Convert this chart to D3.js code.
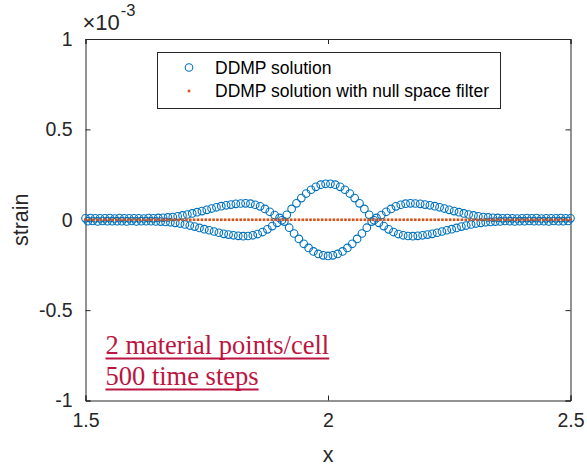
<!DOCTYPE html>
<html>
<head>
<meta charset="utf-8">
<script src="https://cdn.jsdelivr.net/npm/d3@7"></script>
<style>
    body { margin: 0; background: #fff; }
    #strain-chart { width: 587px; height: 466px; }
    .axis text { font-family: "Liberation Sans", Arial, sans-serif; fill: #262626; }
</style>
</head>
<body>
<div id="strain-chart"></div>
<script>

// STRAIN PROFILE, DDMP WITH / WITHOUT NULL SPACE FILTER
// values, strain given in units of 1e-3

let xPoints = [
    1.500, 1.505, 1.510, 1.515, 1.520, 1.525, 1.530, 1.535, 1.540, 1.545,
    1.550, 1.555, 1.560, 1.565, 1.570, 1.575, 1.580, 1.585, 1.590, 1.595,
    1.600, 1.605, 1.610, 1.615, 1.620, 1.625, 1.630, 1.635, 1.640, 1.645,
    1.650, 1.655, 1.660, 1.665, 1.670, 1.675, 1.680, 1.685, 1.690, 1.695,
    1.700, 1.705, 1.710, 1.715, 1.720, 1.725, 1.730, 1.735, 1.740, 1.745,
    1.750, 1.755, 1.760, 1.765, 1.770, 1.775, 1.780, 1.785, 1.790, 1.795,
    1.800, 1.805, 1.810, 1.815, 1.820, 1.825, 1.830, 1.835, 1.840, 1.845,
    1.850, 1.855, 1.860, 1.865, 1.870, 1.875, 1.880, 1.885, 1.890, 1.895,
    1.900, 1.905, 1.910, 1.915, 1.920, 1.925, 1.930, 1.935, 1.940, 1.945,
    1.950, 1.955, 1.960, 1.965, 1.970, 1.975, 1.980, 1.985, 1.990, 1.995,
    2.000, 2.005, 2.010, 2.015, 2.020, 2.025, 2.030, 2.035, 2.040, 2.045,
    2.050, 2.055, 2.060, 2.065, 2.070, 2.075, 2.080, 2.085, 2.090, 2.095,
    2.100, 2.105, 2.110, 2.115, 2.120, 2.125, 2.130, 2.135, 2.140, 2.145,
    2.150, 2.155, 2.160, 2.165, 2.170, 2.175, 2.180, 2.185, 2.190, 2.195,
    2.200, 2.205, 2.210, 2.215, 2.220, 2.225, 2.230, 2.235, 2.240, 2.245,
    2.250, 2.255, 2.260, 2.265, 2.270, 2.275, 2.280, 2.285, 2.290, 2.295,
    2.300, 2.305, 2.310, 2.315, 2.320, 2.325, 2.330, 2.335, 2.340, 2.345,
    2.350, 2.355, 2.360, 2.365, 2.370, 2.375, 2.380, 2.385, 2.390, 2.395,
    2.400, 2.405, 2.410, 2.415, 2.420, 2.425, 2.430, 2.435, 2.440, 2.445,
    2.450, 2.455, 2.460, 2.465, 2.470, 2.475, 2.480, 2.485, 2.490, 2.495,
    2.500
];

let strainDDMP = [
    0.008, -0.008, 0.009, -0.007, 0.008, -0.009, 0.008, -0.007, 0.008, -0.008,
    0.009, -0.008, 0.007, -0.008, 0.009, -0.008, 0.008, -0.009, 0.008, -0.007,
    0.008, -0.009, 0.008, -0.008, 0.007, -0.008, 0.009, -0.008, 0.008, -0.009,
    0.010, -0.010, 0.011, -0.012, 0.013, -0.014, 0.015, -0.017, 0.019, -0.021,
    0.024, -0.026, 0.029, -0.032, 0.035, -0.038, 0.042, -0.045, 0.048, -0.052,
    0.055, -0.058, 0.062, -0.065, 0.069, -0.072, 0.075, -0.078, 0.080, -0.082,
    0.084, -0.086, 0.088, -0.089, 0.090, -0.091, 0.091, -0.090, 0.089, -0.086,
    0.083, -0.079, 0.074, -0.068, 0.060, -0.053, 0.044, -0.035, 0.026, -0.017,
    0.010, -0.003, -0.010, 0.027, -0.044, 0.060, -0.076, 0.091, -0.106, 0.120,
    -0.133, 0.145, -0.156, 0.166, -0.175, 0.182, -0.189, 0.194, -0.197, 0.199,
    -0.200, 0.199, -0.197, 0.194, -0.189, 0.182, -0.175, 0.166, -0.156, 0.145,
    -0.133, 0.120, -0.106, 0.091, -0.076, 0.060, -0.044, 0.027, -0.010, -0.003,
    0.010, -0.017, 0.026, -0.035, 0.044, -0.053, 0.060, -0.068, 0.074, -0.079,
    0.083, -0.086, 0.089, -0.090, 0.091, -0.091, 0.090, -0.089, 0.088, -0.086,
    0.084, -0.082, 0.080, -0.078, 0.075, -0.072, 0.069, -0.065, 0.062, -0.058,
    0.055, -0.052, 0.048, -0.045, 0.042, -0.038, 0.035, -0.032, 0.029, -0.026,
    0.024, -0.021, 0.019, -0.017, 0.015, -0.014, 0.013, -0.012, 0.011, -0.010,
    0.010, -0.009, 0.008, -0.007, 0.009, -0.008, 0.008, -0.009, 0.007, -0.008,
    0.008, -0.008, 0.009, -0.007, 0.008, -0.008, 0.009, -0.008, 0.007, -0.008,
    0.008, -0.009, 0.008, -0.007, 0.008, -0.008, 0.009, -0.008, 0.008, -0.007,
    0.008
];

// the filtered solution is plotted on a coarser set of points
let xFiltered = [
    1.500, 1.508, 1.516, 1.524, 1.532, 1.540, 1.548, 1.556, 1.564, 1.572,
    1.580, 1.588, 1.596, 1.604, 1.612, 1.620, 1.628, 1.636, 1.644, 1.652,
    1.660, 1.668, 1.676, 1.684, 1.692, 1.700, 1.708, 1.716, 1.724, 1.732,
    1.740, 1.748, 1.756, 1.764, 1.772, 1.780, 1.788, 1.796, 1.804, 1.812,
    1.820, 1.828, 1.836, 1.844, 1.852, 1.860, 1.868, 1.876, 1.884, 1.892,
    1.900, 1.908, 1.916, 1.924, 1.932, 1.940, 1.948, 1.956, 1.964, 1.972,
    1.980, 1.988, 1.996, 2.004, 2.012, 2.020, 2.028, 2.036, 2.044, 2.052,
    2.060, 2.068, 2.076, 2.084, 2.092, 2.100, 2.108, 2.116, 2.124, 2.132,
    2.140, 2.148, 2.156, 2.164, 2.172, 2.180, 2.188, 2.196, 2.204, 2.212,
    2.220, 2.228, 2.236, 2.244, 2.252, 2.260, 2.268, 2.276, 2.284, 2.292,
    2.300, 2.308, 2.316, 2.324, 2.332, 2.340, 2.348, 2.356, 2.364, 2.372,
    2.380, 2.388, 2.396, 2.404, 2.412, 2.420, 2.428, 2.436, 2.444, 2.452,
    2.460, 2.468, 2.476, 2.484, 2.492, 2.500
];

let strainFiltered = [
    0, 0, 0, 0, 0, 0, 0, 0, 0, 0,
    0, 0, 0, 0, 0, 0, 0, 0, 0, 0,
    0, 0, 0, 0, 0, 0, 0, 0, 0, 0,
    0, 0, 0, 0, 0, 0, 0, 0, 0, 0,
    0, 0, 0, 0, 0, 0, 0, 0, 0, 0,
    0, 0, 0, 0, 0, 0, 0, 0, 0, 0,
    0, 0, 0, 0, 0, 0, 0, 0, 0, 0,
    0, 0, 0, 0, 0, 0, 0, 0, 0, 0,
    0, 0, 0, 0, 0, 0, 0, 0, 0, 0,
    0, 0, 0, 0, 0, 0, 0, 0, 0, 0,
    0, 0, 0, 0, 0, 0, 0, 0, 0, 0,
    0, 0, 0, 0, 0, 0, 0, 0, 0, 0,
    0, 0, 0, 0, 0, 0
];

let xTicks = [1.5, 2, 2.5];
let yTicks = [-1, -0.5, 0, 0.5, 1];
let legendLabels = ["DDMP solution", "DDMP solution with null space filter"];
let noteLines = ["2 material points/cell", "500 time steps"];


class StrainVis {

    constructor(_parentElement) {
        this.parentElement = _parentElement;
        this.initVis();
    }

    initVis() {
        let vis = this;

        vis.margin = {top: 39, right: 16.5, bottom: 65.5, left: 85.5};
        vis.width = 587 - vis.margin.left - vis.margin.right;
        vis.height = 466 - vis.margin.top - vis.margin.bottom;

        vis.colors = {
            'axis': '#262626',
            'blue': '#0072BD',
            'orange': '#D95319',
            'note': '#BB1541'
        };

        vis.svg = d3.select("#" + vis.parentElement).append("svg")
            .attr("width", 587)
            .attr("height", 466)
            .append("g")
            .attr("transform", "translate(" + vis.margin.left + "," + vis.margin.top + ")");

        vis.x = d3.scaleLinear().domain([1.5, 2.5]).range([0, vis.width]);
        vis.y = d3.scaleLinear().domain([-1, 1]).range([vis.height, 0]);

        vis.ddmpData = xPoints.map((d, i) => ({x: d, y: strainDDMP[i]}));
        vis.filteredData = xFiltered.map((d, i) => ({x: d, y: strainFiltered[i]}));

        vis.updateVis();
    }

    updateVis() {
        let vis = this;
        let tickFont = "19.5px";
        let fmt = d => d < 0 ? "-" + Math.abs(d) : "" + d;

        // axes, ticks pointing inward, box on
        let xAxis = d3.axisBottom(vis.x).tickValues(xTicks).tickSize(-5).tickPadding(13).tickFormat(fmt);
        let xTop = d3.axisTop(vis.x).tickValues(xTicks).tickSize(-5).tickFormat("");
        let yAxis = d3.axisLeft(vis.y).tickValues(yTicks).tickSize(-5).tickPadding(13).tickFormat(fmt);
        let yRight = d3.axisRight(vis.y).tickValues(yTicks).tickSize(-5).tickFormat("");

        vis.svg.append("g").attr("class", "axis")
            .attr("transform", "translate(0," + vis.height + ")").call(xAxis);
        vis.svg.append("g").attr("class", "axis").call(xTop);
        vis.svg.append("g").attr("class", "axis").call(yAxis);
        vis.svg.append("g").attr("class", "axis")
            .attr("transform", "translate(" + vis.width + ",0)").call(yRight);

        vis.svg.selectAll(".axis path, .axis line")
            .attr("stroke", vis.colors.axis)
            .attr("stroke-width", 1);
        vis.svg.selectAll(".axis text")
            .style("font-size", tickFont);

        // exponent label
        let expo = vis.svg.append("text")
            .attr("x", -3)
            .attr("y", -9)
            .attr("fill", vis.colors.axis)
            .style("font-family", "Liberation Sans, Arial, sans-serif")
            .style("font-size", "22px");
        expo.append("tspan").text("\u00d710");
        expo.append("tspan").attr("dx", 1).attr("dy", -14).style("font-size", "16.5px").text("-3");

        // axis labels
        vis.svg.append("text")
            .attr("x", vis.width / 2)
            .attr("y", vis.height + 61)
            .attr("text-anchor", "middle")
            .attr("fill", vis.colors.axis)
            .style("font-family", "Liberation Sans, Arial, sans-serif")
            .style("font-size", "21.5px")
            .text("x");

        vis.svg.append("text")
            .attr("transform", "translate(-58," + (vis.height / 2) + ") rotate(-90)")
            .attr("text-anchor", "middle")
            .attr("fill", vis.colors.axis)
            .style("font-family", "Liberation Sans, Arial, sans-serif")
            .style("font-size", "21.5px")
            .text("strain");

        // clip to the axes box
        vis.svg.append("clipPath").attr("id", "plot-clip")
            .append("rect").attr("x", -6).attr("y", -6)
            .attr("width", vis.width + 12).attr("height", vis.height + 12);

        let plot = vis.svg.append("g").attr("clip-path", "url(#plot-clip)");

        // DDMP solution, open circles
        plot.selectAll(".ddmp")
            .data(vis.ddmpData)
            .enter().append("circle")
            .attr("class", "ddmp")
            .attr("cx", d => vis.x(d.x))
            .attr("cy", d => vis.y(d.y))
            .attr("r", 3.8)
            .attr("fill", "none")
            .attr("stroke", vis.colors.blue)
            .attr("stroke-width", 1.1);

        // filtered solution, dots
        plot.selectAll(".filtered")
            .data(vis.filteredData)
            .enter().append("rect")
            .attr("class", "filtered")
            .attr("x", d => vis.x(d.x) - 1.3)
            .attr("y", d => vis.y(d.y) - 1.3)
            .attr("width", 2.6)
            .attr("height", 2.6)
            .attr("fill", vis.colors.orange);

        // legend
        let legend = vis.svg.append("g")
            .attr("transform", "translate(" + (157 - vis.margin.left) + "," + (52 - vis.margin.top) + ")");

        legend.append("rect")
            .attr("x", 0.5).attr("y", 0.5)
            .attr("width", 343).attr("height", 56)
            .attr("fill", "white")
            .attr("stroke", vis.colors.axis)
            .attr("stroke-width", 1);

        legend.append("circle")
            .attr("cx", 32).attr("cy", 15.5).attr("r", 3.8)
            .attr("fill", "none").attr("stroke", vis.colors.blue).attr("stroke-width", 1.1);

        legend.append("rect")
            .attr("x", 30.7).attr("y", 37.7).attr("width", 2.6).attr("height", 2.6)
            .attr("fill", vis.colors.orange);

        legend.selectAll(".legend-label")
            .data(legendLabels)
            .enter().append("text")
            .attr("class", "legend-label")
            .attr("x", 58)
            .attr("y", (d, i) => 21.5 + i * 23.5)
            .attr("fill", "black")
            .style("font-family", "Liberation Sans, Arial, sans-serif")
            .style("font-size", "17.5px")
            .text(d => d);

        // annotation, underlined
        let note = vis.svg.append("g");
        noteLines.forEach((line, i) => {
            let yPos = 354 - vis.margin.top + i * 31;
            let t = note.append("text")
                .attr("x", 105.5 - vis.margin.left)
                .attr("y", yPos)
                .attr("fill", vis.colors.note)
                .style("font-family", "Liberation Serif, Times New Roman, serif")
                .style("font-size", "26.5px")
                .text(line);
            let w = t.node().getComputedTextLength();
            note.append("line")
                .attr("x1", 105.5 - vis.margin.left)
                .attr("x2", 105.5 - vis.margin.left + w)
                .attr("y1", yPos + 4.5)
                .attr("y2", yPos + 4.5)
                .attr("stroke", vis.colors.note)
                .attr("stroke-width", 2);
        });
    }
}

let strainVis = new StrainVis("strain-chart");

</script>
</body>
</html>
